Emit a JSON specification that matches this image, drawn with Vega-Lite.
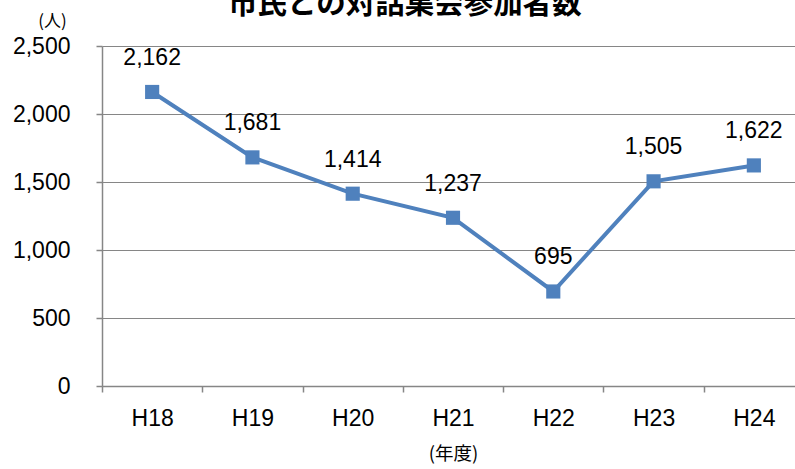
{
  "$schema": "https://vega.github.io/schema/vega-lite/v6.json",
  "width": 702,
  "height": 340,
  "autosize": {"type": "none"},
  "padding": {"left": 102, "top": 46, "right": 0, "bottom": 83},
  "background": "white",
  "title": {
    "text": "市民との対話集会参加者数",
    "font": "Noto Sans CJK JP",
    "fontSize": 29.5,
    "fontWeight": "bold",
    "color": "#000000",
    "anchor": "start",
    "frame": "group",
    "dx": 126,
    "offset": -7
  },
  "data": {
    "values": [
      {"year": "H18", "value": 2162},
      {"year": "H19", "value": 1681},
      {"year": "H20", "value": 1414},
      {"year": "H21", "value": 1237},
      {"year": "H22", "value": 695},
      {"year": "H23", "value": 1505},
      {"year": "H24", "value": 1622}
    ]
  },
  "config": {
    "view": {"stroke": null},
    "axis": {
      "labelFont": "Liberation Sans",
      "titleFont": "Noto Sans CJK JP",
      "labelColor": "#000000",
      "titleColor": "#000000",
      "domainColor": "#868686",
      "tickColor": "#868686",
      "gridColor": "#868686",
      "domainWidth": 1.5,
      "tickWidth": 1.5,
      "gridWidth": 1.2
    }
  },
  "encoding": {
    "x": {
      "field": "year",
      "type": "nominal",
      "sort": null,
      "scale": {"paddingInner": 0, "paddingOuter": 0},
      "axis": {
        "title": "(年度)",
        "titleFontSize": 18.5,
        "titleFontWeight": "normal",
        "titlePadding": 14,
        "labelFontSize": 23,
        "labelAngle": 0,
        "labelPadding": 15,
        "tickBand": "extent",
        "tickSize": 6,
        "grid": false
      }
    },
    "y": {
      "field": "value",
      "type": "quantitative",
      "scale": {"domain": [0, 2500], "nice": false},
      "axis": {
        "values": [0, 500, 1000, 1500, 2000, 2500],
        "format": ",d",
        "title": "(人)",
        "titleAngle": 0,
        "titleFontSize": 17,
        "titleFontWeight": "normal",
        "titleX": -50,
        "titleY": -25,
        "titleAlign": "center",
        "titleBaseline": "middle",
        "labelFontSize": 23,
        "labelPadding": 26,
        "tickSize": 6,
        "grid": true
      }
    }
  },
  "layer": [
    {
      "mark": {"type": "line", "color": "#4F81BD", "strokeWidth": 4},
      "encoding": {}
    },
    {
      "mark": {"type": "point", "shape": "square", "filled": true, "color": "#4F81BD", "size": 200, "opacity": 1},
      "encoding": {}
    },
    {
      "mark": {"type": "text", "fontSize": 23, "font": "Liberation Sans", "color": "#000000", "dy": -34},
      "encoding": {"text": {"field": "value", "type": "quantitative", "format": ",d"}}
    }
  ]
}
